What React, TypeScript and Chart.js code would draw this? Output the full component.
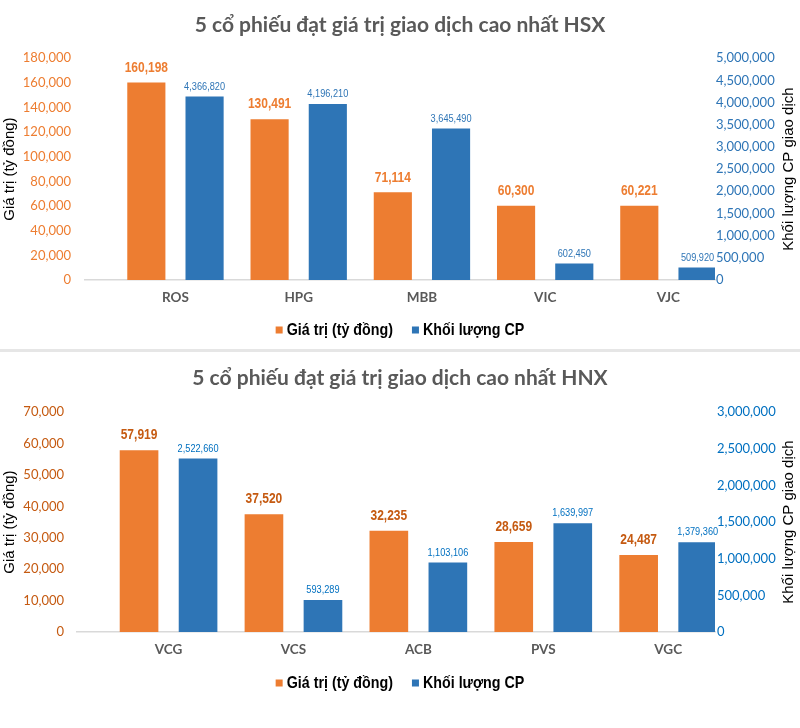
import React, { useEffect, useRef } from 'react';
import { Chart, registerables } from 'chart.js';

Chart.register(...registerables);

// ---------------- data ----------------
const HSX_TITLE = '5 cổ phiếu đạt giá trị giao dịch cao nhất HSX';
const HSX_CATEGORIES = ['ROS', 'HPG', 'MBB', 'VIC', 'VJC'];
const HSX_VALUES = [160198, 130491, 71114, 60300, 60221];
const HSX_VOLUMES = [4366820, 4196210, 3645490, 602450, 509920];
const HSX_VALUE_TICKS = [0, 20000, 40000, 60000, 80000, 100000, 120000, 140000, 160000, 180000];
const HSX_VOLUME_TICKS = [0, 500000, 1000000, 1500000, 2000000, 2500000, 3000000, 3500000, 4000000, 4500000, 5000000];

const HNX_TITLE = '5 cổ phiếu đạt giá trị giao dịch cao nhất HNX';
const HNX_CATEGORIES = ['VCG', 'VCS', 'ACB', 'PVS', 'VGC'];
const HNX_VALUES = [57919, 37520, 32235, 28659, 24487];
const HNX_VOLUMES = [2522660, 593289, 1103106, 1639997, 1379360];
const HNX_VALUE_TICKS = [0, 10000, 20000, 30000, 40000, 50000, 60000, 70000];
const HNX_VOLUME_TICKS = [0, 500000, 1000000, 1500000, 2000000, 2500000, 3000000];

const SERIES_NAMES = ['Giá trị (tỷ đồng)', 'Khối lượng CP'];
const LEFT_AXIS_TITLE = 'Giá trị (tỷ đồng)';
const RIGHT_AXIS_TITLE = 'Khối lượng CP giao dịch';

// ---------------- styles ----------------
const ORANGE = '#ED7D31';
const BLUE = '#2E75B6';
const SANS = '"Liberation Sans", Arial, sans-serif';
const NARROW_SCALE = 0.8;
const LEGEND_SCALE = 0.84;
const fmt = (v: number) => v.toLocaleString('en-US');

type Spec = {
  title: string;
  categories: string[];
  values: number[];
  volumes: number[];
  valueTicks: number[];
  volumeTicks: number[];
  volumeBarMin: number;
  volumeBarMax: number;
  xMin: number;
  xMax: number;
  leftWidth: number;
  leftTickPad: number;
  rightTickPad: number;
  titlePadTop: number;
  titlePadBottom: number;
  xHeight: number;
  layoutBottom: number;
  legendOffset: number;
  valueTickColor: string;
  volumeTickColor: string;
  valueLabelColor: string;
  volumeLabelColor: string;
};

function narrowText(
  ctx: CanvasRenderingContext2D,
  text: string,
  x: number,
  y: number,
  align: 'left' | 'center',
  sx: number = NARROW_SCALE
) {
  ctx.save();
  ctx.translate(x, y);
  ctx.scale(sx, 1);
  ctx.textAlign = align;
  ctx.fillText(text, 0, 0);
  ctx.restore();
}

function buildConfig(s: Spec): any {
  const overlay = {
    id: 'overlay',
    afterDatasetsDraw(chart: any) {
      const ctx = chart.ctx;
      const styles = [
        { font: `bold 15px ${SANS}`, color: s.valueLabelColor, offset: 15 },
        { font: `11.5px ${SANS}`, color: s.volumeLabelColor, offset: 10 },
      ];
      chart.data.datasets.forEach((ds: any, di: number) => {
        const meta = chart.getDatasetMeta(di);
        const st = styles[di];
        ctx.save();
        ctx.font = st.font;
        ctx.fillStyle = st.color;
        ctx.textBaseline = 'middle';
        meta.data.forEach((el: any, i: number) => {
          narrowText(ctx, fmt(ds.data[i].y), el.x, el.y - st.offset, 'center');
        });
        ctx.restore();
      });
    },
    afterDraw(chart: any) {
      const { ctx, chartArea } = chart;
      // right axis title, reading bottom to top
      ctx.save();
      ctx.translate(789, (chartArea.top + chartArea.bottom) / 2);
      ctx.rotate(-Math.PI / 2);
      ctx.font = `15px ${SANS}`;
      ctx.fillStyle = '#000';
      ctx.textAlign = 'center';
      ctx.textBaseline = 'middle';
      ctx.fillText(RIGHT_AXIS_TITLE, 0, 0);
      ctx.restore();

      // legend
      const colors = [ORANGE, BLUE];
      const box = 7;
      const gap = 4;
      const itemGap = 19;
      ctx.save();
      ctx.font = `bold 17px ${SANS}`;
      ctx.textBaseline = 'middle';
      const widths = SERIES_NAMES.map((t) => ctx.measureText(t).width * LEGEND_SCALE);
      const total = widths.reduce((a, w) => a + box + gap + w, 0) + itemGap * (SERIES_NAMES.length - 1);
      let x = (chart.width - total) / 2;
      const y = chartArea.bottom + s.legendOffset;
      SERIES_NAMES.forEach((t, i) => {
        ctx.fillStyle = colors[i];
        ctx.fillRect(x, y - box / 2, box, box);
        x += box + gap;
        ctx.fillStyle = '#000';
        narrowText(ctx, t, x, y + 0.5, 'left', LEGEND_SCALE);
        x += widths[i] + itemGap;
      });
      ctx.restore();
    },
  };

  return {
    type: 'bar',
    data: {
      datasets: [
        {
          label: SERIES_NAMES[0],
          data: s.values.map((v, i) => ({ x: i, y: v })),
          backgroundColor: ORANGE,
          xAxisID: 'x',
          yAxisID: 'y',
          categoryPercentage: 0.945,
          barPercentage: 0.655,
        },
        {
          label: SERIES_NAMES[1],
          data: s.volumes.map((v, i) => ({ x: i, y: v })),
          backgroundColor: BLUE,
          xAxisID: 'x',
          yAxisID: 'yBar',
          categoryPercentage: 0.945,
          barPercentage: 0.655,
        },
      ],
    },
    options: {
      responsive: false,
      maintainAspectRatio: false,
      animation: false,
      devicePixelRatio: 1,
      layout: { padding: { left: 0, right: 0, top: 0, bottom: s.layoutBottom } },
      scales: {
        x: {
          type: 'linear',
          offset: false,
          min: s.xMin,
          max: s.xMax,
          afterBuildTicks: (axis: any) => {
            axis.ticks = s.categories.map((_, i) => ({ value: i }));
          },
          afterFit: (scale: any) => {
            scale.height = s.xHeight;
          },
          ticks: {
            autoSkip: false,
            maxRotation: 0,
            padding: 10,
            color: '#595959',
            font: { family: 'Lato', size: 13.5, weight: 'bold' },
            callback: (v: any) => s.categories[v] ?? '',
          },
          grid: { display: false, drawTicks: false },
          border: { display: true, color: '#D9D9D9', width: 1.5 },
        },
        y: {
          position: 'left',
          min: s.valueTicks[0],
          max: s.valueTicks[s.valueTicks.length - 1],
          afterBuildTicks: (axis: any) => {
            axis.ticks = s.valueTicks.map((v) => ({ value: v }));
          },
          afterFit: (scale: any) => {
            scale.width = s.leftWidth;
          },
          ticks: {
            autoSkip: false,
            padding: s.leftTickPad,
            color: s.valueTickColor,
            font: { family: 'Lato', size: 13 },
            callback: (v: any) => fmt(Number(v)),
          },
          grid: { display: false, drawTicks: false },
          border: { display: false },
          title: {
            display: true,
            text: LEFT_AXIS_TITLE,
            color: '#000',
            font: { family: SANS, size: 15 },
            padding: { top: 1, bottom: 0 },
          },
        },
        y1: {
          position: 'right',
          display: true,
          min: s.volumeTicks[0],
          max: s.volumeTicks[s.volumeTicks.length - 1],
          afterBuildTicks: (axis: any) => {
            axis.ticks = s.volumeTicks.map((v) => ({ value: v }));
          },
          afterFit: (scale: any) => {
            scale.width = 85;
          },
          ticks: {
            autoSkip: false,
            padding: s.rightTickPad,
            color: s.volumeTickColor,
            font: { family: 'Lato', size: 13 },
            callback: (v: any) => fmt(Number(v)),
          },
          grid: { display: false, drawTicks: false },
          border: { display: false },
        },
        yBar: {
          position: 'right',
          display: false,
          min: s.volumeBarMin,
          max: s.volumeBarMax,
          grid: { display: false },
        },
      },
      plugins: {
        title: {
          display: true,
          text: s.title,
          color: '#595959',
          font: { family: 'Lato', size: 21, weight: 'bold' },
          padding: { top: s.titlePadTop, bottom: s.titlePadBottom },
        },
        legend: { display: false },
        tooltip: { enabled: false },
      },
    },
    plugins: [overlay],
  };
}

const HSX_SPEC: Spec = {
  title: HSX_TITLE,
  categories: HSX_CATEGORIES,
  values: HSX_VALUES,
  volumes: HSX_VOLUMES,
  valueTicks: HSX_VALUE_TICKS,
  volumeTicks: HSX_VOLUME_TICKS,
  volumeBarMin: 230000,
  volumeBarMax: 5230000,
  xMin: -0.734,
  xMax: 4.378,
  leftWidth: 85,
  leftTickPad: 14,
  rightTickPad: 1,
  titlePadTop: 13,
  titlePadBottom: 20,
  xHeight: 24,
  layoutBottom: 45,
  legendOffset: 50,
  valueTickColor: '#ED7D31',
  volumeTickColor: '#2E75B6',
  valueLabelColor: '#ED7D31',
  volumeLabelColor: '#2E75B6',
};

const HNX_SPEC: Spec = {
  title: HNX_TITLE,
  categories: HNX_CATEGORIES,
  values: HNX_VALUES,
  volumes: HNX_VOLUMES,
  valueTicks: HNX_VALUE_TICKS,
  volumeTicks: HNX_VOLUME_TICKS,
  volumeBarMin: 155000,
  volumeBarMax: 3155000,
  xMin: -0.733,
  xMax: 4.375,
  leftWidth: 77,
  leftTickPad: 13,
  rightTickPad: 2,
  titlePadTop: 14,
  titlePadBottom: 21,
  xHeight: 25,
  layoutBottom: 71,
  legendOffset: 51,
  valueTickColor: '#C55A11',
  volumeTickColor: '#0070C0',
  valueLabelColor: '#C55A11',
  volumeLabelColor: '#0070C0',
};

function Panel({ spec, height }: { spec: Spec; height: number }) {
  const ref = useRef<HTMLCanvasElement>(null);
  useEffect(() => {
    const chart = new Chart(ref.current as HTMLCanvasElement, buildConfig(spec));
    return () => chart.destroy();
  }, [spec]);
  return (
    <canvas
      ref={ref}
      width={800}
      height={height}
      style={{ display: 'block', width: 800, height }}
    />
  );
}

export default function App() {
  return (
    <div style={{ position: 'absolute', left: 0, top: 0, width: 800, height: 728, background: '#fff' }}>
      <div style={{ position: 'absolute', left: 0, top: 0 }}>
        <Panel spec={HSX_SPEC} height={349} />
      </div>
      <div style={{ position: 'absolute', left: 0, top: 349, width: 800, height: 3, background: '#E6E6E6' }} />
      <div style={{ position: 'absolute', left: 0, top: 352 }}>
        <Panel spec={HNX_SPEC} height={376} />
      </div>
    </div>
  );
}
